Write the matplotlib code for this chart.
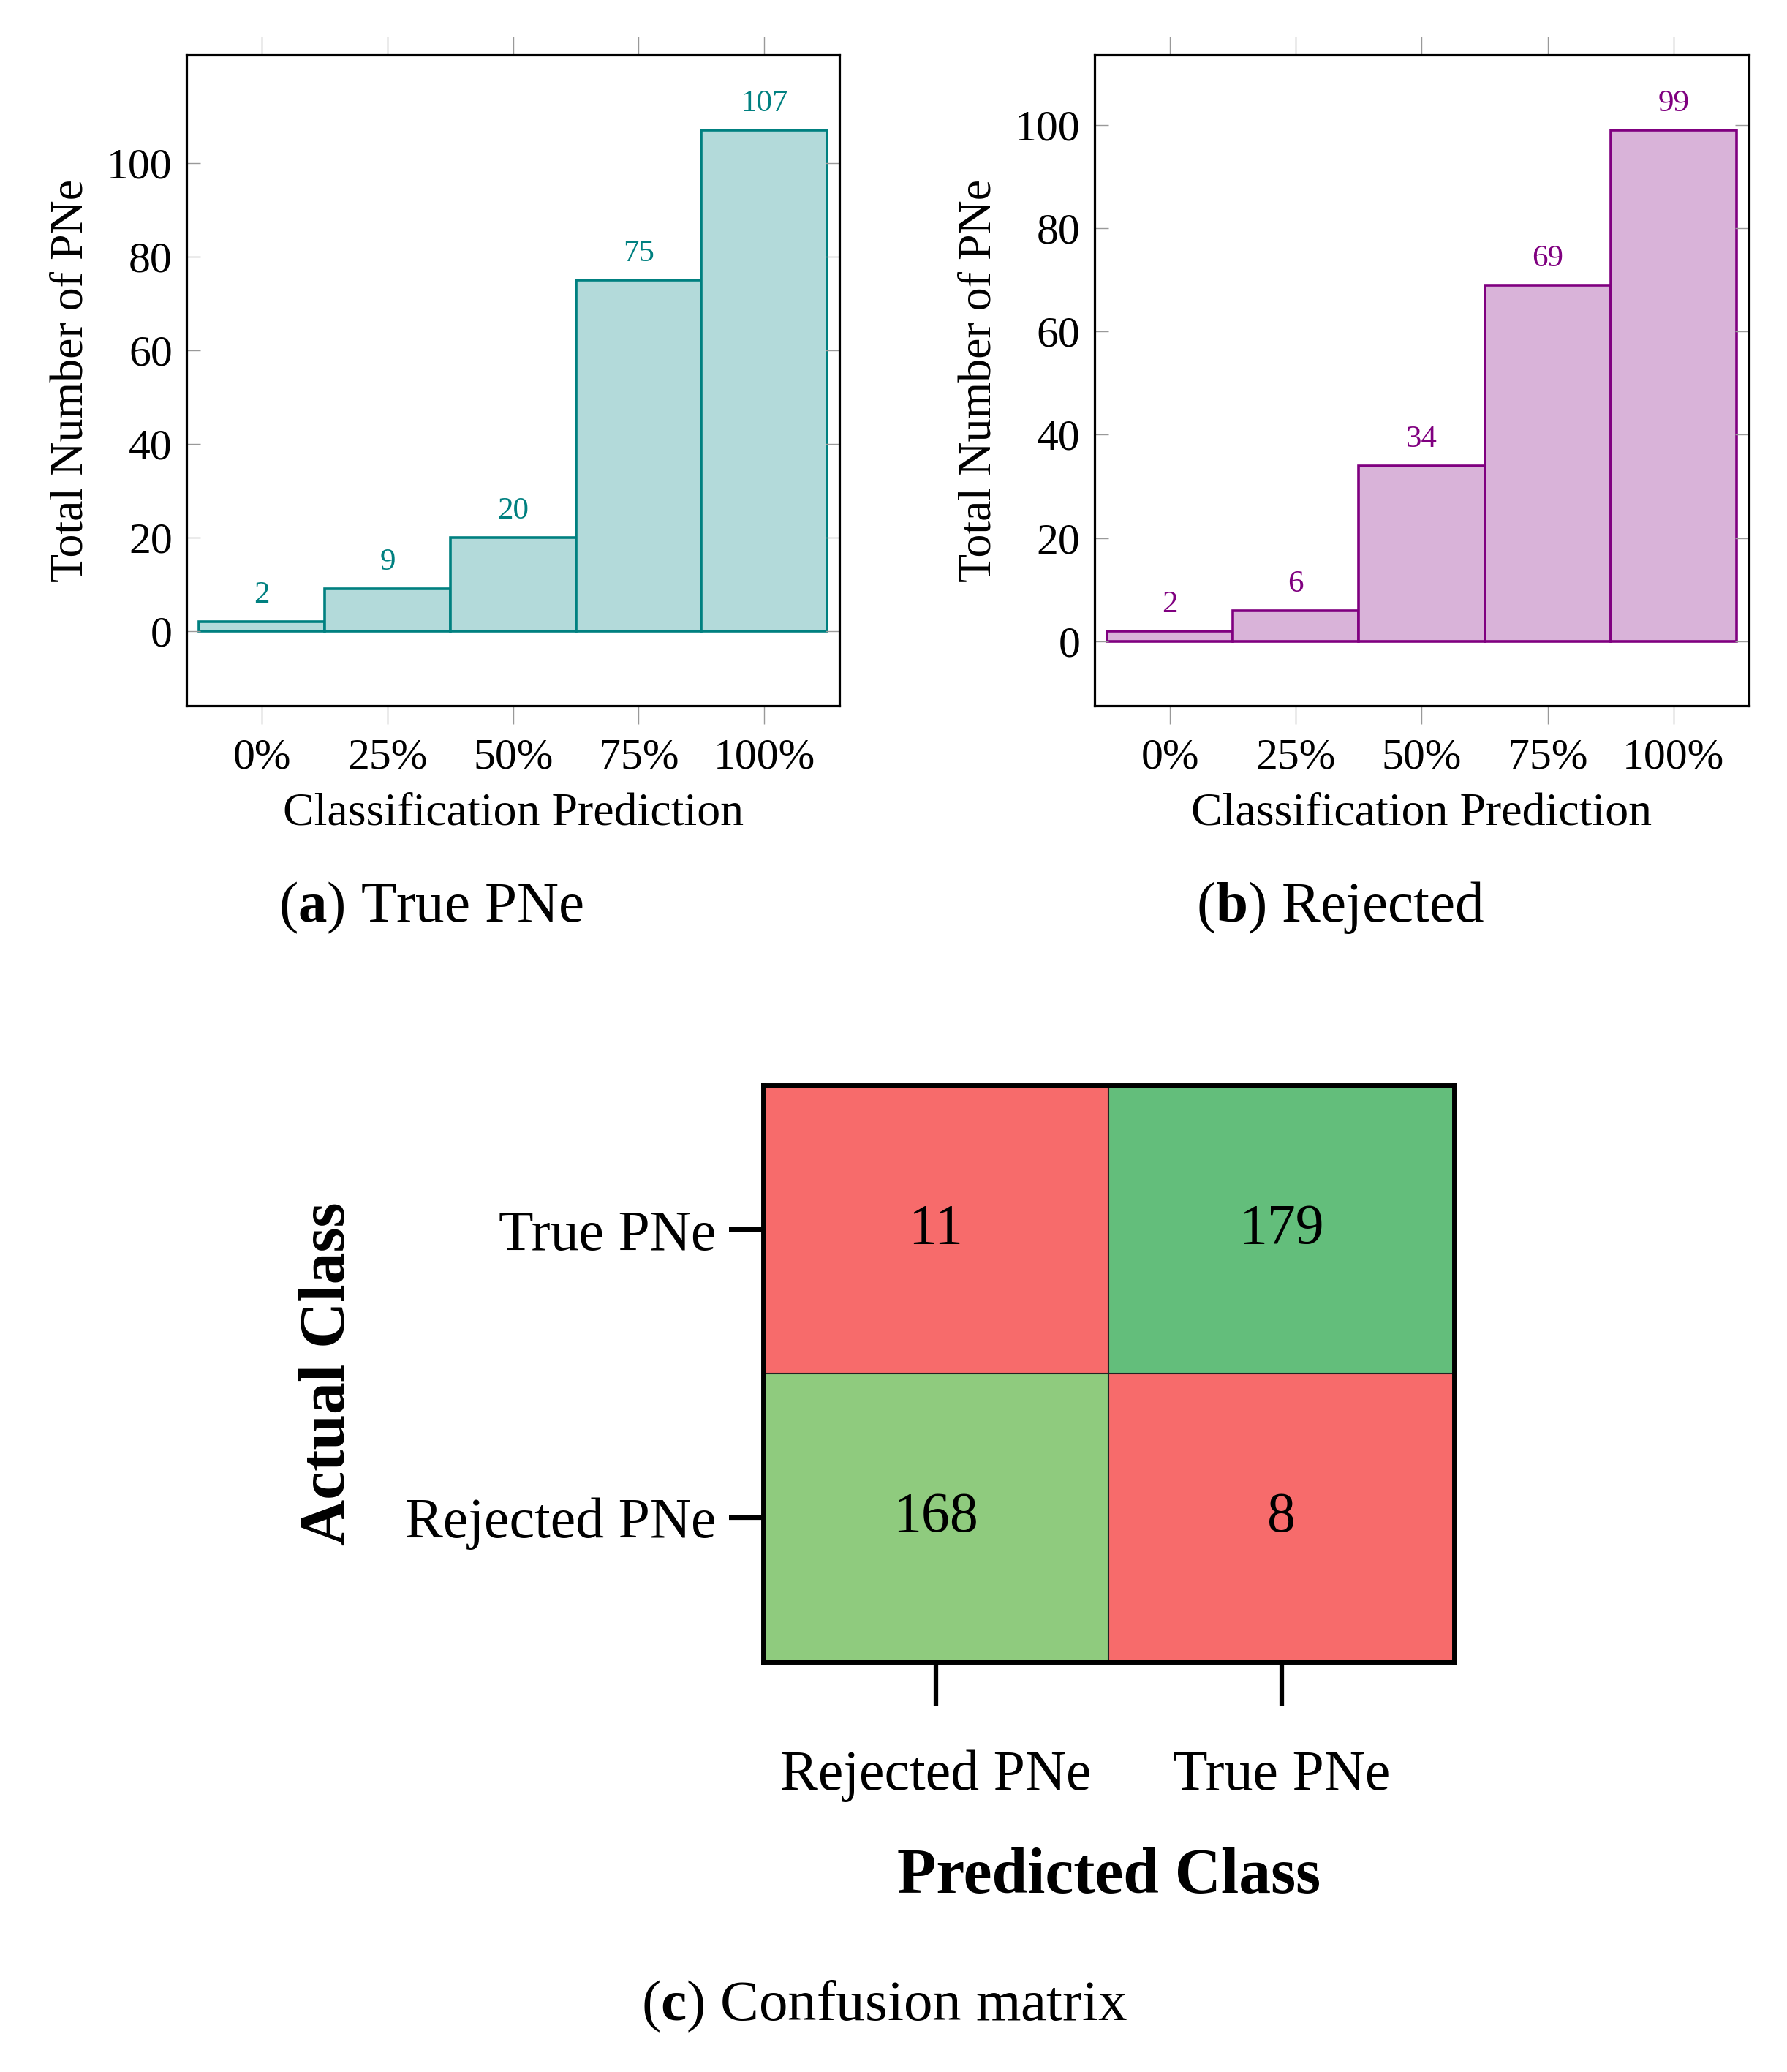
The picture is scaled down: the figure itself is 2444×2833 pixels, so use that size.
import numpy as np
import matplotlib
matplotlib.use("Agg")
import matplotlib.pyplot as plt
from matplotlib.colors import to_rgb

plt.rcParams['font.family'] = ['Liberation Serif', 'DejaVu Serif']
plt.rcParams['mathtext.fontset'] = 'custom'
plt.rcParams['mathtext.rm'] = 'Liberation Serif'
plt.rcParams['mathtext.bf'] = 'Liberation Serif:bold'

# data
bins = [0, 25, 50, 75, 100]
bin_labels = ['0%', '25%', '50%', '75%', '100%']
true_counts = [2, 9, 20, 75, 107]
rej_counts = [2, 6, 34, 69, 99]

cm_values = [[11, 179], [168, 8]]
cm_colors = [['#F76B6B', '#63BE7B'], ['#8FCB7E', '#F76B6B']]
actual_labels = ['True PNe', 'Rejected PNe']
predicted_labels = ['Rejected PNe', 'True PNe']

fig = plt.figure(figsize=(24.44, 28.33), dpi=100)


def histo(ax, counts, edge, fill, ylim):
    ax.bar(bins, counts, width=25, color=fill, edgecolor=edge, linewidth=2.6)
    for x, c in zip(bins, counts):
        ax.annotate(str(c), (x, c), xytext=(0, 12), textcoords='offset points',
                    ha='center', va='bottom', color=edge, fontsize=31)
    ax.set_xlim(-15, 115)
    ax.set_ylim(*ylim)
    ax.set_xticks(bins)
    ax.set_xticklabels(bin_labels)
    ax.set_yticks(range(0, 101, 20))
    ax.tick_params(axis='x', direction='out', top=True, bottom=True, length=18,
                   width=1, color='#999999', labelsize=43, pad=14)
    ax.tick_params(axis='y', direction='in', left=True, right=True, length=14,
                   width=1, color='#999999', labelsize=43, pad=14)
    for s in ax.spines.values():
        s.set_linewidth(2.3)
    ax.set_xlabel('Classification Prediction', fontsize=46, labelpad=14)
    ax.set_ylabel('Total Number of PNe', fontsize=46, labelpad=14)


ax1 = fig.add_axes([0.1044, 0.6593, 0.3654, 0.3141])
histo(ax1, true_counts, '#008080', '#B3DADA', (-16, 123))
ax2 = fig.add_axes([0.6125, 0.6593, 0.3662, 0.3141])
histo(ax2, rej_counts, '#800080', '#D9B3D9', (-12.5, 113.5))

fig.text(0.241, 0.562, r'($\mathbf{a}$) True PNe', ha='center', va='center', fontsize=57)
fig.text(0.75, 0.562, r'($\mathbf{b}$) Rejected', ha='center', va='center', fontsize=57)

# confusion matrix
ax3 = fig.add_axes([0.427, 0.198, 0.3868, 0.278])
img = np.array([[to_rgb(c) for c in row] for row in cm_colors])
ax3.imshow(img, extent=(0, 2, 2, 0), aspect='auto')
for i in range(2):
    for j in range(2):
        ax3.text(j + 0.5, i + 0.5, str(cm_values[i][j]), ha='center', va='center',
                 fontsize=56)
ax3.axhline(1, color='#222222', lw=1.5)
ax3.axvline(1, color='#222222', lw=1.5)
ax3.set_xlim(0, 2)
ax3.set_ylim(2, 0)
ax3.set_xticks([0.5, 1.5])
ax3.set_xticklabels(predicted_labels)
ax3.set_yticks([0.5, 1.5])
ax3.set_yticklabels(actual_labels)
ax3.tick_params(axis='x', length=43, width=4.5, labelsize=56, pad=44)
ax3.tick_params(axis='y', length=34, width=4.5, labelsize=56, pad=12)
for s in ax3.spines.values():
    s.set_linewidth(5)
ax3.set_xlabel('Predicted Class', fontsize=63, fontweight='bold', labelpad=44)
ax3.set_ylabel('Actual Class', fontsize=63, fontweight='bold', labelpad=46)

fig.text(0.495, 0.032, r'($\mathbf{c}$) Confusion matrix', ha='center', va='center', fontsize=57)

fig.savefig('out.png', dpi=100)
